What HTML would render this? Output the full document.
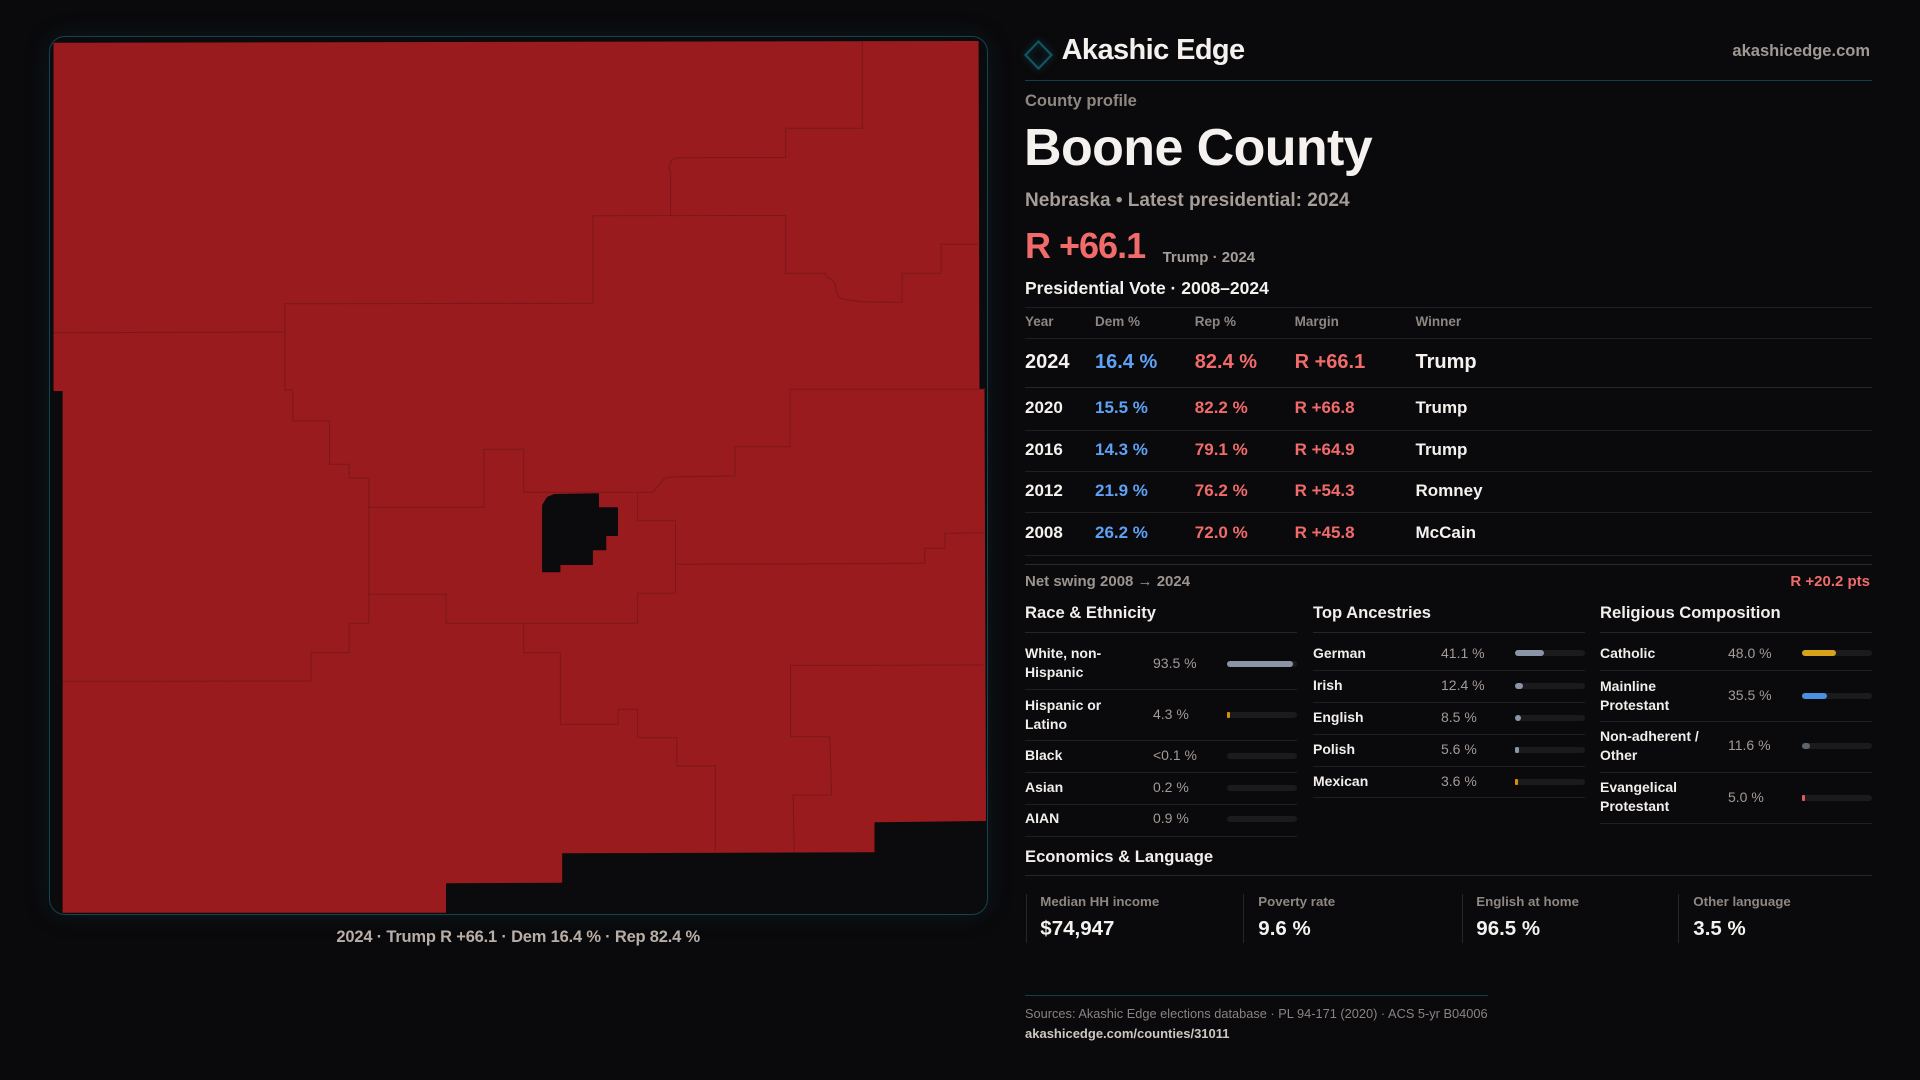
<!DOCTYPE html>
<html><head><meta charset="utf-8">
<style>
html,body{margin:0;padding:0;}
body{width:1920px;height:1080px;background:#0a090b;position:relative;overflow:hidden;font-family:"Liberation Sans",sans-serif;}
.t{position:absolute;white-space:nowrap;}
.b{font-weight:bold;}
.w{color:#f4f1ee;}
.g{color:#9c948f;}
.red{color:#f26b6b;}
.blue{color:#5ea2f5;}
.ln{position:absolute;height:1px;background:#1f1f22;}
.hl{position:absolute;height:1px;background:#252528;}
.trk{position:absolute;height:6px;border-radius:3px;background:#1b1b1e;}
.fil{position:absolute;left:0;top:0;height:6px;border-radius:3px;}
.lab{font-size:14px;line-height:19px;font-weight:bold;color:#f1eeeb;}
.val{font-size:14px;line-height:19px;color:#a39b96;}
.hd{font-size:16.6px;line-height:20px;font-weight:bold;color:#f1eeeb;}
.th{font-size:13.5px;line-height:16px;font-weight:bold;color:#8e8681;}
.r17{font-size:17px;line-height:22px;font-weight:bold;}
.r20{font-size:20px;line-height:24px;font-weight:bold;}
.box{position:absolute;top:894px;height:49px;width:1px;background:#26262a;}
.el{font-size:13.3px;line-height:16px;font-weight:bold;color:#8f8782;}
.ev{font-size:20.5px;line-height:24px;font-weight:bold;color:#f4f1ee;}
</style></head><body>

<!-- Map frame -->
<div style="position:absolute;left:48.6px;top:36px;width:939.2px;height:879px;box-sizing:border-box;border:1px solid #0f4652;border-radius:16px;background:#0b0a0c;box-shadow:0 0 26px rgba(25,100,120,0.18);"></div>

<svg style="position:absolute;left:0;top:0;" width="1920" height="1080" viewBox="0 0 1920 1080">
  <polygon fill="#991b1e" points="53.5,42.7 978.6,41 979.5,389.3 984.5,389.3 986,821 874.5,822.3 874.5,852.3 562.2,853.3 562.2,882.7 446,883.3 446,912.7 62.6,912.7 62.6,391 53.5,391"/>
  <g fill="none" stroke="#7a171a" stroke-width="1">
    <polyline points="862.3,41 862.3,128.3 785.7,128.3 785.7,157.5 677,157.7 672,160 668.5,168 670.6,172 670.6,215.7"/>
    <polyline points="592.9,215.7 785.7,215.5 785.7,273.3 825.5,273.3 826,277 831,279 835,283 836,292 840,298 848,300 863.5,301.7 902,302.3 902,273.3 941.2,273.3 941.2,244.3 979.5,244.3"/>
    <polyline points="592.9,215.7 592.9,303.3 284.9,303.8 284.9,390 292.9,390 292.9,421 329.6,421 329.6,464.3 349.2,464.3 349.2,478 368.8,478 368.8,623.3"/>
    <polyline points="53.5,332.7 284.9,332"/>
    <polyline points="368.8,507.3 483.9,507.3 483.9,449.3 523.7,449.3 523.7,492.3 652.2,492.3 665,478 676.8,476.7 735,476 735,446.7 790,446.7 790,389.3 985,389.3"/>
    <polyline points="637.6,493.3 637.6,520.7 675.5,520.7 675.5,593.3 637.6,593.3 637.6,623.3 446,623.3 446,594.3 368.8,594.3"/>
    <polyline points="675.5,564.3 924.7,563.3 924.7,548.3 945,548.3 945,533.3 985,533"/>
    <polyline points="349.2,623.3 368.8,623.3"/>
    <polyline points="349.2,623.3 349.2,652.7 311.2,652.7 311.2,681 62.6,681.3"/>
    <polyline points="523.7,623.3 523.7,652.7 560.4,652.7 560.4,724.3 618,724.3 618,709.3 637.6,709.3 637.6,737.7 676.8,737.7 676.8,766 715.3,766 715.3,851"/>
    <polyline points="983,665 790.6,665.5 790.6,736.7 829.8,736.7 831.6,795 793.1,795 794.3,852"/>
  </g>
  <polygon fill="#0b0a0c" points="542.1,505 547,497 554.3,494 599,493.3 599,507.3 618,507.3 618,536 606.3,536 606.3,550.3 592.9,550.3 592.9,565 560.4,565 560.4,572.3 542.1,572.3"/>
  <!-- logo diamond -->
  <polygon points="1038.5,41.5 1051.5,55 1038.5,68.5 1025.5,55" fill="none" stroke="#0e5663" stroke-width="2.2" style="filter:drop-shadow(0 0 4px rgba(20,120,140,0.5));"/>
</svg>

<div class="t b" style="left:0;top:926.7px;width:1036.4px;text-align:center;font-size:16.5px;line-height:20px;letter-spacing:-0.2px;color:#b8aea8;">2024 · Trump R +66.1 · Dem 16.4 % · Rep 82.4 %</div>

<!-- Header -->
<div class="t b w" style="left:1061.6px;top:35px;font-size:29px;line-height:30px;letter-spacing:-0.6px;">Akashic Edge</div>
<div class="t b" style="right:50px;top:41.2px;font-size:16.5px;line-height:20px;color:#a09893;">akashicedge.com</div>
<div style="position:absolute;left:1025px;top:80px;width:847px;height:1px;background:#0f3f4a;"></div>

<div class="t b" style="left:1025px;top:91.2px;font-size:16.5px;line-height:20px;color:#8f8782;">County profile</div>
<div class="t b w" style="left:1024px;top:117.5px;font-size:52px;line-height:60px;letter-spacing:-0.6px;">Boone County</div>
<div class="t b" style="left:1025px;top:189.3px;font-size:19px;line-height:24px;color:#a59d98;">Nebraska • Latest presidential: 2024</div>
<div class="t b red" style="left:1025px;top:225.8px;font-size:36px;line-height:40px;letter-spacing:-1px;">R +66.1</div>
<div class="t b" style="left:1162.6px;top:248.8px;font-size:15px;line-height:18px;color:#a59d98;">Trump · 2024</div>
<div class="t b w" style="left:1025px;top:277px;font-size:17.5px;line-height:22px;">Presidential Vote · 2008–2024</div>

<!-- Table -->
<div class="ln" style="left:1025px;top:307px;width:847px;"></div>
<div class="t th" style="left:1025px;top:314.3px;">Year</div>
<div class="t th" style="left:1095px;top:314.3px;">Dem %</div>
<div class="t th" style="left:1194.8px;top:314.3px;">Rep %</div>
<div class="t th" style="left:1294.6px;top:314.3px;">Margin</div>
<div class="t th" style="left:1415.5px;top:314.3px;">Winner</div>
<div class="ln" style="left:1025px;top:338px;width:847px;"></div>

<div class="t r20 w" style="left:1025px;top:349.7px;">2024</div>
<div class="t r20 blue" style="left:1095px;top:349.7px;">16.4 %</div>
<div class="t r20 red" style="left:1194.8px;top:349.7px;">82.4 %</div>
<div class="t r20 red" style="left:1294.6px;top:349.7px;">R +66.1</div>
<div class="t r20 w" style="left:1415.5px;top:349.7px;">Trump</div>
<div class="ln" style="left:1025px;top:387px;width:847px;background:#26262a;"></div>

<div class="t r17 w" style="left:1025px;top:397.3px;">2020</div>
<div class="t r17 blue" style="left:1095px;top:397.3px;">15.5 %</div>
<div class="t r17 red" style="left:1194.8px;top:397.3px;">82.2 %</div>
<div class="t r17 red" style="left:1294.6px;top:397.3px;">R +66.8</div>
<div class="t r17 w" style="left:1415.5px;top:397.3px;">Trump</div>
<div class="ln" style="left:1025px;top:430px;width:847px;"></div>

<div class="t r17 w" style="left:1025px;top:438.7px;">2016</div>
<div class="t r17 blue" style="left:1095px;top:438.7px;">14.3 %</div>
<div class="t r17 red" style="left:1194.8px;top:438.7px;">79.1 %</div>
<div class="t r17 red" style="left:1294.6px;top:438.7px;">R +64.9</div>
<div class="t r17 w" style="left:1415.5px;top:438.7px;">Trump</div>
<div class="ln" style="left:1025px;top:471px;width:847px;"></div>

<div class="t r17 w" style="left:1025px;top:480.3px;">2012</div>
<div class="t r17 blue" style="left:1095px;top:480.3px;">21.9 %</div>
<div class="t r17 red" style="left:1194.8px;top:480.3px;">76.2 %</div>
<div class="t r17 red" style="left:1294.6px;top:480.3px;">R +54.3</div>
<div class="t r17 w" style="left:1415.5px;top:480.3px;">Romney</div>
<div class="ln" style="left:1025px;top:512px;width:847px;"></div>

<div class="t r17 w" style="left:1025px;top:522.3px;">2008</div>
<div class="t r17 blue" style="left:1095px;top:522.3px;">26.2 %</div>
<div class="t r17 red" style="left:1194.8px;top:522.3px;">72.0 %</div>
<div class="t r17 red" style="left:1294.6px;top:522.3px;">R +45.8</div>
<div class="t r17 w" style="left:1415.5px;top:522.3px;">McCain</div>
<div class="ln" style="left:1025px;top:555px;width:847px;"></div>
<div class="ln" style="left:1025px;top:564px;width:847px;background:#2a2a2e;"></div>

<div class="t b" style="left:1025px;top:572.7px;font-size:15px;line-height:18px;color:#9c948f;">Net swing 2008 → 2024</div>
<div class="t b red" style="right:50px;top:572.7px;font-size:15px;line-height:18px;">R +20.2 pts</div>

<!-- Race & Ethnicity -->
<div class="t hd" style="left:1025px;top:603.3px;">Race &amp; Ethnicity</div>
<div class="hl" style="left:1025px;top:632px;width:272px;"></div>
<div class="t lab" style="left:1025px;top:643.8px;">White, non-<br>Hispanic</div>
<div class="t val" style="left:1153px;top:653.8px;">93.5 %</div>
<div class="trk" style="left:1227px;top:661px;width:70px;"><div class="fil" style="width:65.5px;background:#8b95a7;"></div></div>
<div class="ln" style="left:1025px;top:689px;width:272px;"></div>
<div class="t lab" style="left:1025px;top:695.5px;">Hispanic or<br>Latino</div>
<div class="t val" style="left:1153px;top:704.5px;">4.3 %</div>
<div class="trk" style="left:1227px;top:711.7px;width:70px;"><div class="fil" style="width:3px;border-radius:1px;background:#d98e0b;"></div></div>
<div class="ln" style="left:1025px;top:740px;width:272px;"></div>
<div class="t lab" style="left:1025px;top:746.2px;">Black</div>
<div class="t val" style="left:1153px;top:746.2px;">&lt;0.1 %</div>
<div class="trk" style="left:1227px;top:752.7px;width:70px;"></div>
<div class="ln" style="left:1025px;top:771.5px;width:272px;"></div>
<div class="t lab" style="left:1025px;top:778.2px;">Asian</div>
<div class="t val" style="left:1153px;top:778.2px;">0.2 %</div>
<div class="trk" style="left:1227px;top:784.7px;width:70px;"></div>
<div class="ln" style="left:1025px;top:804px;width:272px;"></div>
<div class="t lab" style="left:1025px;top:809.2px;">AIAN</div>
<div class="t val" style="left:1153px;top:809.2px;">0.9 %</div>
<div class="trk" style="left:1227px;top:815.7px;width:70px;"></div>
<div class="ln" style="left:1025px;top:835.5px;width:272px;"></div>

<!-- Ancestries -->
<div class="t hd" style="left:1313px;top:603.3px;">Top Ancestries</div>
<div class="hl" style="left:1313px;top:632px;width:272px;"></div>
<div class="t lab" style="left:1313px;top:643.8px;">German</div>
<div class="t val" style="left:1441px;top:643.8px;">41.1 %</div>
<div class="trk" style="left:1515px;top:650.3px;width:70px;"><div class="fil" style="width:28.8px;background:#8b95a7;"></div></div>
<div class="ln" style="left:1313px;top:670px;width:272px;"></div>
<div class="t lab" style="left:1313px;top:676.2px;">Irish</div>
<div class="t val" style="left:1441px;top:676.2px;">12.4 %</div>
<div class="trk" style="left:1515px;top:682.7px;width:70px;"><div class="fil" style="width:8.4px;background:#8b95a7;"></div></div>
<div class="ln" style="left:1313px;top:702px;width:272px;"></div>
<div class="t lab" style="left:1313px;top:708.2px;">English</div>
<div class="t val" style="left:1441px;top:708.2px;">8.5 %</div>
<div class="trk" style="left:1515px;top:714.7px;width:70px;"><div class="fil" style="width:6px;background:#8b95a7;"></div></div>
<div class="ln" style="left:1313px;top:734px;width:272px;"></div>
<div class="t lab" style="left:1313px;top:740.2px;">Polish</div>
<div class="t val" style="left:1441px;top:740.2px;">5.6 %</div>
<div class="trk" style="left:1515px;top:746.7px;width:70px;"><div class="fil" style="width:4px;border-radius:1.5px;background:#8b95a7;"></div></div>
<div class="ln" style="left:1313px;top:766px;width:272px;"></div>
<div class="t lab" style="left:1313px;top:772.2px;">Mexican</div>
<div class="t val" style="left:1441px;top:772.2px;">3.6 %</div>
<div class="trk" style="left:1515px;top:778.7px;width:70px;"><div class="fil" style="width:2.6px;border-radius:1px;background:#d98e0b;"></div></div>
<div class="ln" style="left:1313px;top:797px;width:272px;"></div>

<!-- Religious -->
<div class="t hd" style="left:1600px;top:603.3px;">Religious Composition</div>
<div class="hl" style="left:1600px;top:632px;width:272px;"></div>
<div class="t lab" style="left:1600px;top:643.8px;">Catholic</div>
<div class="t val" style="left:1728px;top:643.8px;">48.0 %</div>
<div class="trk" style="left:1802px;top:650.3px;width:70px;"><div class="fil" style="width:33.6px;background:#d9a21b;"></div></div>
<div class="ln" style="left:1600px;top:670px;width:272px;"></div>
<div class="t lab" style="left:1600px;top:676.5px;">Mainline<br>Protestant</div>
<div class="t val" style="left:1728px;top:685.5px;">35.5 %</div>
<div class="trk" style="left:1802px;top:693px;width:70px;"><div class="fil" style="width:24.9px;background:#4a8fe0;"></div></div>
<div class="ln" style="left:1600px;top:721px;width:272px;"></div>
<div class="t lab" style="left:1600px;top:727.2px;">Non-adherent /<br>Other</div>
<div class="t val" style="left:1728px;top:736.2px;">11.6 %</div>
<div class="trk" style="left:1802px;top:743px;width:70px;"><div class="fil" style="width:7.6px;background:#5d6470;"></div></div>
<div class="ln" style="left:1600px;top:771.5px;width:272px;"></div>
<div class="t lab" style="left:1600px;top:778.2px;">Evangelical<br>Protestant</div>
<div class="t val" style="left:1728px;top:787.8px;">5.0 %</div>
<div class="trk" style="left:1802px;top:794.5px;width:70px;"><div class="fil" style="width:3.2px;border-radius:1px;background:#e05a5a;"></div></div>
<div class="ln" style="left:1600px;top:823px;width:272px;"></div>

<!-- Economics -->
<div class="t hd" style="left:1025px;top:846.5px;">Economics &amp; Language</div>
<div class="hl" style="left:1025px;top:875px;width:847px;"></div>
<div class="box" style="left:1025.7px;"></div>
<div class="box" style="left:1243.4px;"></div>
<div class="box" style="left:1461.7px;"></div>
<div class="box" style="left:1678.4px;"></div>
<div class="t el" style="left:1040.3px;top:894.3px;">Median HH income</div>
<div class="t ev" style="left:1040.3px;top:917px;">$74,947</div>
<div class="t el" style="left:1258.3px;top:894.3px;">Poverty rate</div>
<div class="t ev" style="left:1258.3px;top:917px;">9.6 %</div>
<div class="t el" style="left:1476.3px;top:894.3px;">English at home</div>
<div class="t ev" style="left:1476.3px;top:917px;">96.5 %</div>
<div class="t el" style="left:1693.3px;top:894.3px;">Other language</div>
<div class="t ev" style="left:1693.3px;top:917px;">3.5 %</div>

<!-- Footer -->
<div style="position:absolute;left:1025px;top:995px;width:463px;height:1px;background:#123e4a;"></div>
<div class="t" style="left:1025px;top:1005.7px;font-size:12.8px;line-height:16px;color:#8a8380;">Sources: Akashic Edge elections database · PL 94-171 (2020) · ACS 5-yr B04006</div>
<div class="t b" style="left:1025px;top:1025.7px;font-size:13px;line-height:16px;color:#cfc8c2;">akashicedge.com/counties/31011</div>

</body></html>
